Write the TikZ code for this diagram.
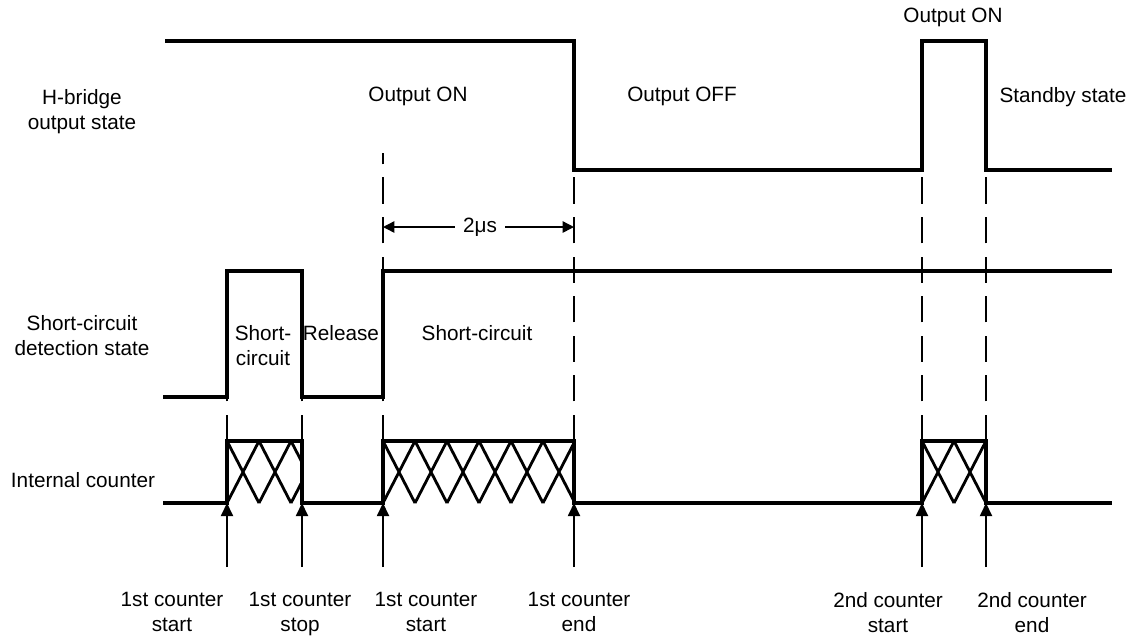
\documentclass[tikz,border=0pt]{standalone}
\usepackage{fontspec}
\setmainfont{Liberation Sans}
\usetikzlibrary{arrows.meta}

\begin{document}
\begin{tikzpicture}[
		x=0.02cm, y=-0.02cm,
		lbl/.style={font=\fontsize{11.8}{14.2}\selectfont, align=center, inner sep=0pt, anchor=north},
		signal/.style={line width=1.9pt},
		hatch/.style={line width=1.6pt},
		guide/.style={line width=0.7pt, dash pattern=on 15pt off 7.5pt},
		evarrow/.style={-{Triangle[length=7.5pt, width=7pt]}, line width=0.8pt},
		span/.style={-{Triangle[length=6.5pt, width=6.5pt]}, line width=0.8pt}
		]
		\useasboundingbox (0,0) rectangle (1139,637);
		
		% Event points on the counter line
		\coordinate (e1) at (227,503);
		\coordinate (e2) at (302,503);
		\coordinate (e3) at (383,503);
		\coordinate (e4) at (574,503);
		\coordinate (e5) at (922,503);
		\coordinate (e6) at (986,503);
		\coordinate (foot) at (0,567);
		
		% Guides
		\foreach \x/\top in {227/397, 302/397, 383/153, 574/170, 922/170, 986/170}
			\draw[guide] (\x,441) -- (\x,\top);
		
		% Signals
		\draw[signal] (165,41) -- (574,41) -- (574,170) -- (922,170) -- (922,41) -- (986,41) -- (986,170) -- (1112,170);
		\draw[signal] (163,397) -- (227,397) -- (227,271) -- (302,271) -- (302,397) -- (383,397) -- (383,271) -- (1112,271);
		\draw[signal] (163,503) -- (227,503) -- (227,441) -- (302,441) -- (302,503) -- (383,503) -- (383,441) -- (574,441) -- (574,503) -- (922,503) -- (922,441) -- (986,441) -- (986,503) -- (1112,503);
		
		% Counting boxes
		\foreach \a/\b/\n in {227/302/2, 383/574/5, 922/986/1} {
			\begin{scope}
				\clip (\a,441) rectangle (\b,503);
				\foreach \k in {0,...,\n}
					\draw[hatch] ({\a+32*\k},503) -- ++(32,-62) ({\a+32*\k},441) -- ++(32,62);
			\end{scope}
		}
		
		% Row labels
		\node[lbl] (hb) at (82,89) {H-bridge\\output state};
		\node[lbl] (sc) at (82,315) {Short-circuit\\detection state};
		\node[lbl] (ic) at (83,472) {Internal counter};
		
		% State labels
		\node[lbl] (on1) at (418,87) {Output ON};
		\node[lbl] (off) at (682,87) {Output OFF};
		\node[lbl] (on2) at (953,8) {Output ON};
		\node[lbl] (stby) at (1063,87) {Standby state};
		\node[lbl] (sc1) at (263,325) {Short-\\circuit};
		\node[lbl] (rel) at (341,325) {Release};
		\node[lbl] (sc2) at (477,325) {Short-circuit};
		
		% 2us span
		\node[lbl, anchor=center, inner xsep=4.5pt] (dt) at (480,227) {2μs};
		\draw[span] (dt.west) -- (dt.west -| e3);
		\draw[span] (dt.east) -- (dt.east -| e4);
		
		% Event labels
		\node[lbl] (s1) at (172,592) {1st counter\\start};
		\node[lbl] (p1) at (300,592) {1st counter\\stop};
		\node[lbl] (s2) at (426,592) {1st counter\\start};
		\node[lbl] (d1) at (579,592) {1st counter\\end};
		\node[lbl] (s3) at (888,592) {2nd counter\\start};
		\node[lbl] (d2) at (1032,592) {2nd counter\\end};
		
		% Arrows
		\foreach \e in {e1, e2, e3, e4, e5, e6}
			\draw[evarrow] (\e |- foot) -- (\e);
		
	\end{tikzpicture}
\end{document}
